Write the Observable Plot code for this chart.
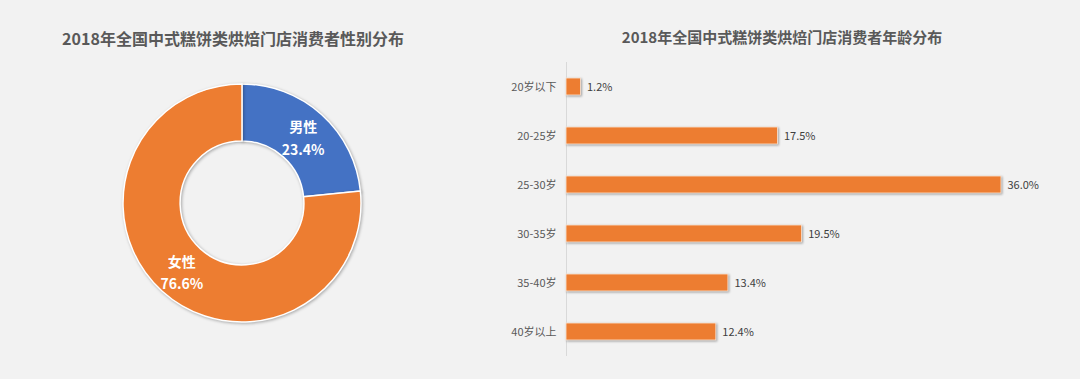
<!DOCTYPE html>
<html><head><meta charset="utf-8">
<script src="https://cdn.jsdelivr.net/npm/d3@7"></script>
<script src="https://cdn.jsdelivr.net/npm/@observablehq/plot@0.6"></script>
<style>
html,body{margin:0;padding:0;background:#f2f2f2;}
#wrap{position:relative;width:1080px;height:379px;background:#f2f2f2;overflow:hidden;font-family:"Noto Sans CJK SC","Noto Sans",sans-serif;}
.title{position:absolute;font-weight:bold;color:#595959;white-space:nowrap;transform:translate(-50%,-50%);line-height:1;}
#left,#right{position:absolute;}
#left{left:0;top:70px;}
#right{left:480px;top:50px;}
#left path.slice{filter:drop-shadow(1px 1px 1.5px rgba(0,0,0,0.3));}
#right g[aria-label="bar"] rect{filter:drop-shadow(1px 1px 1px rgba(0,0,0,0.35));}
</style></head>
<body><div id="wrap">
<div class="title" style="left:233px;top:38px;font-size:16px;">2018年全国中式糕饼类烘焙门店消费者性别分布</div>
<div class="title" style="left:782px;top:36px;font-size:15px;">2018年全国中式糕饼类烘焙门店消费者年龄分布</div>
<div id="left"></div><div id="right"></div>
</div>
<script>
// ---- data ----
const genderLabels = ["男性", "女性"];
const genderValues = [23.4, 76.6];
const genderColors = ["#4472c4", "#ed7d31"];
const ageLabels = ["20岁以下", "20-25岁", "25-30岁", "30-35岁", "35-40岁", "40岁以上"];
const ageValues = [1.2, 17.5, 36.0, 19.5, 13.4, 12.4];
const barColor = "#ed7d31";

const fontFamily = "'Noto Sans CJK SC', 'Noto Sans', sans-serif";

// ---- donut ----
const genderData = genderLabels.map((label, i) => ({label, value: genderValues[i]}));
const arcs = d3.pie().sort(null).value(d => d.value)(genderData);
const innerRatio = 0.52, labelRatio = 0.76;
const color = Plot.scale({color: {domain: genderLabels, range: genderColors}});
const labelData = arcs.map(a => {
  const mid = (a.startAngle + a.endAngle) / 2;
  return {label: a.data.label, value: a.data.value, x: labelRatio * Math.sin(mid), y: labelRatio * Math.cos(mid)};
});

const donutMark = (index, scales) => {
  const cx = scales.x(0), cy = scales.y(0);
  const R = scales.x(1) - scales.x(0);
  const arc = d3.arc().innerRadius(R * innerRatio).outerRadius(R);
  const g = d3.create("svg:g").attr("transform", `translate(${cx},${cy})`);
  g.selectAll("path").data(arcs).join("path")
    .attr("class", "slice")
    .attr("d", arc)
    .attr("fill", d => color.apply(d.data.label))
    .attr("stroke", "#ffffff")
    .attr("stroke-width", 1.5);
  return g.node();
};

const left = Plot.plot({
  width: 480, height: 270,
  marginTop: 14, marginBottom: 18, marginLeft: 123, marginRight: 119,
  x: {domain: [-1, 1], axis: null},
  y: {domain: [-1, 1], axis: null},
  style: {background: "transparent", fontFamily},
  marks: [
    donutMark,
    Plot.text(labelData, {
      x: "x", y: "y",
      text: d => `${d.label}\n${d.value.toFixed(1)}%`,
      fill: "white", fontWeight: "bold", fontSize: 14, lineHeight: 1.6
    })
  ]
});
document.getElementById("left").appendChild(left);

// ---- bars ----
const ageData = ageLabels.map((label, i) => ({label, value: ageValues[i]}));
const right = Plot.plot({
  width: 600, height: 320,
  marginTop: 12, marginBottom: 14, marginLeft: 86, marginRight: 79,
  x: {domain: [0, 36], axis: null},
  y: {domain: ageLabels, paddingInner: 0.66, paddingOuter: 0.33, label: null, tickSize: 0, tickPadding: 10},
  style: {background: "transparent", color: "#595959", fontSize: "11px", fontFamily},
  marks: [
    Plot.ruleX([0], {stroke: "#d9d9d9"}),
    Plot.barX(ageData, {x: "value", y: "label", fill: barColor, stroke: "#fbe5d6", strokeWidth: 0.8}),
    Plot.text(ageData, {x: "value", y: "label", text: d => d.value.toFixed(1) + "%", textAnchor: "start", dx: 6, fill: "#404040", fontSize: 11})
  ]
});
document.getElementById("right").appendChild(right);
</script>
</body></html>
